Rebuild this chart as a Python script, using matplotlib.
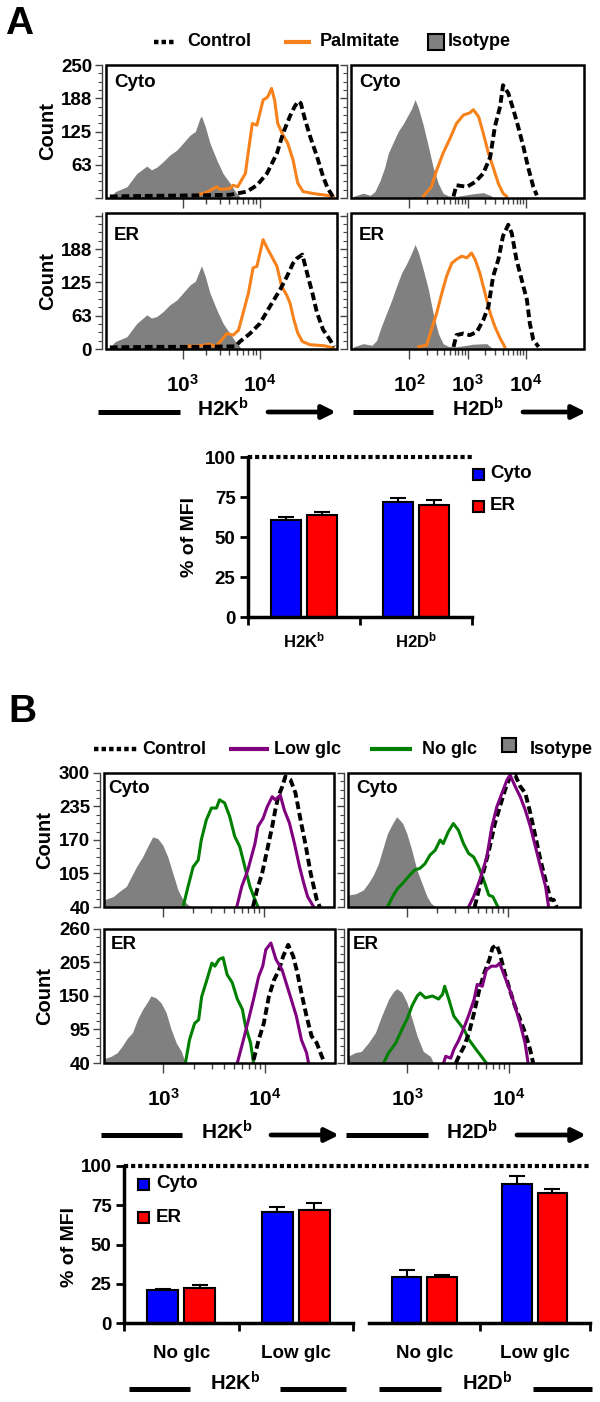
import numpy as np
import matplotlib
matplotlib.use('Agg')
import matplotlib.pyplot as plt
from matplotlib.patches import Rectangle, FancyArrowPatch
from matplotlib.lines import Line2D
from matplotlib.ticker import FixedLocator, FixedFormatter, NullFormatter

plt.rcParams['font.family'] = ['Liberation Sans', 'DejaVu Sans']
plt.rcParams['font.weight'] = 'bold'
plt.rcParams['mathtext.fontset'] = 'custom'
plt.rcParams['mathtext.rm'] = 'Liberation Sans:bold'
plt.rcParams['mathtext.it'] = 'Liberation Sans:bold'
plt.rcParams['mathtext.bf'] = 'Liberation Sans:bold'

# ---------------- data: histograms as (log10 fluorescence, count) ----------------
# panel A, H2Kb, Cyto
a_k_cyto_iso_lx = [2.05, 2.12, 2.27, 2.40, 2.53, 2.59, 2.66, 2.74, 2.83, 2.92, 3.00, 3.09, 3.16, 3.22, 3.24, 3.29, 3.35, 3.44, 3.52, 3.61, 3.68, 3.74]
a_k_cyto_iso_n = [0, 12, 21, 46, 60, 53, 58, 68, 81, 90, 103, 118, 125, 150, 154, 134, 103, 71, 46, 28, 12, 2]
a_k_cyto_pal_lx = [3.18, 3.31, 3.44, 3.48, 3.61, 3.65, 3.71, 3.81, 3.84, 3.90, 3.96, 4.04, 4.10, 4.15, 4.19, 4.23, 4.30, 4.36, 4.43, 4.49, 4.56, 4.71, 4.87, 4.95]
a_k_cyto_pal_n = [5, 11, 21, 16, 18, 24, 21, 46, 78, 140, 137, 184, 190, 206, 184, 140, 118, 103, 71, 28, 12, 8, 5, 2]
a_k_cyto_ctl_lx = [2.05, 2.57, 3.22, 3.61, 3.83, 3.96, 4.09, 4.22, 4.30, 4.39, 4.45, 4.50, 4.53, 4.58, 4.65, 4.74, 4.82, 4.88, 4.95]
a_k_cyto_ctl_n = [3, 4, 5, 6, 12, 24, 46, 84, 122, 154, 172, 182, 178, 150, 116, 78, 40, 18, 2]
# panel A, H2Kb, ER
a_k_er_iso_lx = [2.05, 2.12, 2.27, 2.40, 2.53, 2.59, 2.66, 2.74, 2.83, 2.92, 3.00, 3.09, 3.16, 3.24, 3.29, 3.35, 3.44, 3.52, 3.61, 3.68, 3.74]
a_k_er_iso_n = [3, 14, 23, 48, 64, 58, 61, 70, 83, 92, 105, 120, 127, 156, 136, 105, 73, 48, 29, 14, 4]
a_k_er_pal_lx = [3.03, 3.22, 3.35, 3.42, 3.48, 3.57, 3.65, 3.72, 3.78, 3.85, 3.91, 3.96, 4.00, 4.04, 4.09, 4.15, 4.22, 4.28, 4.35, 4.39, 4.44, 4.49, 4.55, 4.65, 4.84, 4.95]
a_k_er_pal_n = [5, 6, 9, 5, 13, 29, 26, 35, 67, 105, 152, 155, 180, 205, 190, 174, 155, 118, 100, 86, 55, 30, 14, 8, 6, 2]
a_k_er_ctl_lx = [2.05, 2.57, 3.22, 3.68, 3.74, 3.87, 4.00, 4.13, 4.26, 4.35, 4.43, 4.48, 4.55, 4.61, 4.68, 4.74, 4.82, 4.91, 4.96]
a_k_er_ctl_n = [3, 4, 4, 5, 14, 29, 48, 80, 111, 136, 161, 170, 177, 143, 105, 68, 36, 17, 4]
# panel A, H2Db, Cyto
a_d_cyto_iso_lx = [1.04, 1.21, 1.33, 1.41, 1.50, 1.58, 1.64, 1.73, 1.81, 1.90, 1.98, 2.04, 2.10, 2.16, 2.24, 2.33, 2.41, 2.50, 2.58, 2.67, 2.81, 3.10, 3.27, 3.39, 3.47]
a_d_cyto_iso_n = [3, 9, 5, 12, 33, 58, 84, 106, 125, 140, 156, 168, 185, 168, 137, 96, 58, 27, 9, 4, 3, 8, 10, 5, 0]
a_d_cyto_pal_lx = [2.24, 2.38, 2.47, 2.58, 2.70, 2.81, 2.93, 3.04, 3.10, 3.19, 3.27, 3.36, 3.44, 3.53, 3.61, 3.67]
a_d_cyto_pal_n = [3, 21, 52, 84, 112, 140, 156, 160, 166, 153, 122, 84, 58, 27, 9, 3]
a_d_cyto_ctl_lx = [2.76, 2.81, 2.99, 3.13, 3.27, 3.39, 3.47, 3.56, 3.61, 3.70, 3.79, 3.87, 3.96, 4.04, 4.13, 4.19]
a_d_cyto_ctl_n = [3, 24, 21, 30, 46, 77, 134, 172, 212, 197, 165, 134, 96, 58, 21, 5]
# panel A, H2Db, ER
a_d_er_iso_lx = [1.04, 1.21, 1.36, 1.44, 1.52, 1.61, 1.70, 1.78, 1.87, 1.96, 2.04, 2.10, 2.16, 2.24, 2.33, 2.41, 2.50, 2.58, 2.67, 2.81, 3.10, 3.33, 3.44]
a_d_er_iso_n = [4, 10, 7, 16, 42, 67, 92, 117, 143, 161, 180, 196, 180, 149, 111, 67, 29, 10, 5, 4, 9, 10, 0]
a_d_er_pal_lx = [2.16, 2.30, 2.38, 2.47, 2.56, 2.64, 2.73, 2.81, 2.90, 2.99, 3.07, 3.13, 3.21, 3.30, 3.39, 3.47, 3.56, 3.64]
a_d_er_pal_n = [4, 7, 36, 67, 105, 136, 161, 168, 174, 171, 180, 168, 143, 105, 67, 42, 20, 4]
a_d_er_ctl_lx = [2.76, 2.81, 2.93, 3.04, 3.16, 3.27, 3.36, 3.44, 3.53, 3.61, 3.70, 3.76, 3.84, 3.93, 4.02, 4.07, 4.13, 4.22]
a_d_er_ctl_n = [4, 26, 29, 26, 32, 54, 80, 136, 168, 212, 233, 217, 168, 130, 92, 48, 17, 4]

# panel B, H2Kb, Cyto
b_k_cyto_iso_lx = [2.42, 2.51, 2.57, 2.64, 2.69, 2.74, 2.80, 2.85, 2.90, 2.95, 3.00, 3.05, 3.10, 3.15, 3.20, 3.25, 3.30]
b_k_cyto_iso_n = [54, 60, 70, 80, 99, 118, 137, 157, 176, 173, 160, 137, 105, 73, 54, 44, 40]
b_k_cyto_no_lx = [3.20, 3.25, 3.30, 3.35, 3.38, 3.43, 3.48, 3.53, 3.56, 3.61, 3.66, 3.71, 3.76, 3.81, 3.86, 3.91, 3.94]
b_k_cyto_no_n = [40, 80, 118, 131, 170, 209, 232, 232, 248, 242, 216, 177, 157, 118, 80, 54, 40]
b_k_cyto_low_lx = [3.73, 3.78, 3.84, 3.91, 3.94, 3.99, 4.03, 4.08, 4.11, 4.16, 4.20, 4.25, 4.30, 4.35, 4.40, 4.43, 4.49]
b_k_cyto_low_n = [40, 80, 112, 163, 196, 212, 234, 254, 248, 257, 228, 203, 163, 118, 80, 60, 40]
b_k_cyto_ctl_lx = [3.89, 3.93, 3.98, 4.03, 4.08, 4.11, 4.14, 4.18, 4.21, 4.26, 4.31, 4.36, 4.41, 4.46, 4.52, 4.55]
b_k_cyto_ctl_n = [40, 73, 105, 150, 196, 228, 254, 274, 293, 287, 261, 209, 160, 105, 54, 40]
# panel B, H2Db, Cyto
b_d_cyto_iso_lx = [2.42, 2.50, 2.57, 2.62, 2.67, 2.72, 2.77, 2.81, 2.86, 2.90, 2.93, 2.96, 3.00, 3.05, 3.10, 3.15, 3.20, 3.24, 3.29]
b_d_cyto_iso_n = [63, 66, 73, 86, 102, 124, 157, 183, 202, 215, 209, 202, 183, 150, 112, 86, 60, 47, 40]
b_d_cyto_no_lx = [2.81, 2.86, 2.91, 2.96, 3.03, 3.08, 3.13, 3.18, 3.23, 3.28, 3.33, 3.36, 3.41, 3.46, 3.51, 3.56, 3.61, 3.66, 3.71, 3.76, 3.81, 3.85, 3.90]
b_d_cyto_no_n = [40, 60, 76, 86, 102, 112, 115, 124, 141, 150, 170, 163, 186, 202, 189, 163, 144, 137, 118, 92, 63, 60, 40]
b_d_cyto_low_lx = [3.61, 3.66, 3.72, 3.79, 3.84, 3.89, 3.94, 3.99, 4.02, 4.07, 4.12, 4.17, 4.22, 4.27, 4.32, 4.37, 4.40]
b_d_cyto_low_n = [40, 60, 92, 137, 196, 235, 261, 287, 296, 274, 254, 228, 196, 157, 118, 80, 40]
b_d_cyto_ctl_lx = [3.67, 3.72, 3.77, 3.82, 3.87, 3.92, 3.97, 4.02, 4.07, 4.12, 4.17, 4.22, 4.27, 4.32, 4.37, 4.42, 4.45, 4.48]
b_d_cyto_ctl_n = [40, 80, 118, 157, 202, 235, 267, 293, 296, 274, 261, 222, 177, 131, 92, 54, 54, 40]
# panel B, H2Kb, ER
b_k_er_iso_lx = [2.42, 2.49, 2.55, 2.60, 2.65, 2.70, 2.75, 2.80, 2.85, 2.88, 2.93, 2.98, 3.03, 3.08, 3.13, 3.18, 3.22]
b_k_er_iso_n = [47, 51, 57, 68, 81, 90, 112, 128, 141, 150, 147, 139, 123, 95, 73, 59, 40]
b_k_er_no_lx = [3.22, 3.26, 3.31, 3.35, 3.38, 3.43, 3.48, 3.51, 3.55, 3.59, 3.63, 3.68, 3.73, 3.78, 3.81, 3.86, 3.89]
b_k_er_no_n = [40, 78, 105, 111, 149, 176, 204, 199, 210, 213, 185, 172, 145, 128, 101, 73, 40]
b_k_er_low_lx = [3.73, 3.79, 3.84, 3.89, 3.94, 3.98, 4.01, 4.06, 4.11, 4.17, 4.22, 4.27, 4.31, 4.36, 4.41, 4.43]
b_k_er_low_n = [40, 78, 111, 145, 182, 199, 226, 237, 210, 193, 166, 139, 117, 78, 57, 40]
b_k_er_ctl_lx = [3.89, 3.94, 3.99, 4.04, 4.09, 4.14, 4.18, 4.23, 4.28, 4.32, 4.36, 4.41, 4.46, 4.51, 4.56, 4.59]
b_k_er_ctl_n = [45, 78, 105, 149, 176, 193, 215, 234, 215, 188, 155, 117, 84, 73, 51, 40]
# panel B, H2Db, ER
b_d_er_iso_lx = [2.42, 2.49, 2.55, 2.62, 2.69, 2.75, 2.82, 2.87, 2.90, 2.95, 3.00, 3.05, 3.10, 3.16, 3.23, 3.26]
b_d_er_iso_n = [51, 57, 59, 73, 90, 117, 145, 158, 162, 156, 139, 112, 84, 59, 51, 40]
b_d_er_no_lx = [2.77, 2.82, 2.89, 2.95, 3.00, 3.05, 3.10, 3.13, 3.18, 3.25, 3.31, 3.35, 3.37, 3.41, 3.46, 3.51, 3.56, 3.61, 3.68, 3.73, 3.78]
b_d_er_no_n = [40, 57, 73, 95, 112, 134, 150, 155, 147, 150, 145, 153, 166, 145, 117, 106, 95, 78, 62, 51, 40]
b_d_er_low_lx = [3.36, 3.38, 3.43, 3.46, 3.51, 3.56, 3.61, 3.66, 3.69, 3.74, 3.78, 3.83, 3.88, 3.91, 3.96, 4.01, 4.06, 4.11, 4.16, 4.19]
b_d_er_low_n = [40, 51, 48, 62, 78, 98, 120, 145, 169, 166, 193, 199, 199, 204, 182, 160, 134, 106, 73, 40]
b_d_er_ctl_lx = [3.48, 3.51, 3.56, 3.61, 3.66, 3.71, 3.76, 3.81, 3.84, 3.88, 3.91, 3.96, 4.01, 4.06, 4.11, 4.16, 4.21, 4.24]
b_d_er_ctl_n = [40, 51, 67, 90, 123, 160, 188, 210, 229, 234, 221, 188, 160, 134, 112, 90, 62, 40]

# ---------------- data: bar charts (% of MFI) ----------------
a_groups = ['H2K$^b$', 'H2D$^b$']
a_cyto = [60.5, 72.0]
a_cyto_err = [2.0, 2.3]
a_er = [63.5, 70.0]
a_er_err = [2.0, 3.0]

b_groups = ['No glc', 'Low glc']
b_k_cyto = [21.0, 71.0]
b_k_cyto_err = [0.8, 3.2]
b_k_er = [22.0, 72.0]
b_k_er_err = [2.1, 4.2]
b_d_cyto = [29.3, 88.5]
b_d_cyto_err = [4.5, 5.3]
b_d_er = [29.3, 83.0]
b_d_er_err = [1.3, 2.3]

# ---------------- layout helpers ----------------
W, H = 600.0, 1402.0
fig = plt.figure(figsize=(6, 14.02), dpi=100)

GRAY = '#808080'
ORANGE = '#F7821B'
PURPLE = '#800080'
GREEN = '#008000'
DASH = (0, (2.0, 1.0))
DOTS = (0, (1, 0.7))


def rect(x0, y0, x1, y1):
    return [x0 / W, 1 - y1 / H, (x1 - x0) / W, (y1 - y0) / H]


def fx(x):
    return x / W


def fy(y):
    return 1 - y / H


def hist_panel(pos, xlim, ylim, yticks, ylabels, xmaj, xlabels, tag, tag_xy):
    ax = fig.add_axes(rect(*pos))
    ax.set_xscale('log')
    ax.set_xlim(10 ** xlim[0], 10 ** xlim[1])
    ax.set_ylim(*ylim)
    for s in ['top', 'right', 'bottom']:
        ax.spines[s].set_visible(False)
    ax.spines['left'].set_position(('outward', 3))
    ax.spines['left'].set_linewidth(1)
    ax.spines['left'].set_color('#444')
    ax.add_patch(Rectangle((0, 0), 1, 1, transform=ax.transAxes, fill=False,
                           lw=1.8, ec='k', clip_on=False, zorder=6))
    ax.xaxis.set_major_locator(FixedLocator([10.0 ** e for e in xmaj]))
    minors = [m * 10.0 ** e for e in range(xmaj[0], xmaj[-1]) for m in range(2, 10)]
    ax.xaxis.set_minor_locator(FixedLocator(minors))
    ax.xaxis.set_minor_formatter(NullFormatter())
    if xlabels:
        ax.xaxis.set_major_formatter(FixedFormatter([r'$10^{%d}$' % e for e in xmaj]))
    else:
        ax.xaxis.set_major_formatter(NullFormatter())
    ax.yaxis.set_major_locator(FixedLocator(yticks))
    step = (yticks[1] - yticks[0]) / 4.0
    ax.yaxis.set_minor_locator(FixedLocator(np.arange(yticks[0], ylim[1] + 0.01, step)))
    if ylabels:
        ax.yaxis.set_major_formatter(FixedFormatter(ylabels))
    else:
        ax.yaxis.set_major_formatter(NullFormatter())
    ax.tick_params(axis='x', which='major', length=7, width=1, color='#444', pad=11, labelsize=15)
    ax.tick_params(axis='x', which='minor', length=4, width=1, color='#444')
    ax.tick_params(axis='y', which='major', length=5, width=1, color='#444', pad=2, labelsize=13.5)
    ax.tick_params(axis='y', which='minor', length=3, width=0.8, color='#444')
    ax.text(tag_xy[0], tag_xy[1], tag, transform=ax.transAxes, fontsize=13.5,
            fontweight='bold', ha='left', va='top', zorder=7)
    return ax


def draw_iso(ax, lx, n):
    ax.fill_between(10 ** np.array(lx), n, ax.get_ylim()[0], color=GRAY, lw=0, zorder=1)


def draw_line(ax, lx, n, color, z=3):
    ax.plot(10 ** np.array(lx), n, color=color, lw=2.2, zorder=z)


def draw_ctl(ax, lx, n):
    ax.plot(10 ** np.array(lx), n, color='k', lw=2.8, ls=DASH, zorder=4)


def hline(x0, x1, y, lw=3.6):
    fig.add_artist(Line2D([fx(x0), fx(x1)], [fy(y), fy(y)], color='k', lw=lw,
                          solid_capstyle='butt'))


def arrow(x0, x1, y):
    fig.add_artist(FancyArrowPatch((fx(x0), fy(y)), (fx(x1), fy(y)),
                                   transform=fig.transFigure, arrowstyle='-|>',
                                   mutation_scale=20, lw=3.4, color='k',
                                   shrinkA=0, shrinkB=0))


def label(x, y, s, size=14, ha='center', rot=0):
    fig.text(fx(x), fy(y), s, fontsize=size, fontweight='bold', ha=ha, va='center',
             rotation=rot)


def bar_panel(pos, groups, cyto, cyto_err, er, er_err, left=True, xt=(0, 1, 2)):
    ax = fig.add_axes(rect(*pos))
    x = np.arange(len(cyto)) + 0.5
    ax.bar(x - 0.16, cyto, 0.27, color='#0000FF', edgecolor='k', lw=1.5, zorder=2)
    ax.bar(x + 0.16, er, 0.27, color='#FF0000', edgecolor='k', lw=1.5, zorder=2)
    z = np.zeros(len(cyto))
    ax.errorbar(x - 0.16, cyto, yerr=[z, cyto_err], fmt='none', ecolor='k',
                elinewidth=1.5, capsize=6, capthick=1.5, zorder=3)
    ax.errorbar(x + 0.16, er, yerr=[z, er_err], fmt='none', ecolor='k',
                elinewidth=1.5, capsize=6, capthick=1.5, zorder=3)
    ax.set_xlim(0, len(cyto))
    ax.set_ylim(0, 100)
    ax.spines['top'].set_visible(False)
    ax.spines['right'].set_visible(False)
    ax.spines['bottom'].set_linewidth(2.5)
    ax.spines['left'].set_linewidth(2.5)
    ax.set_xticks(list(xt))
    ax.set_xticklabels([])
    ax.set_xticks(x, minor=True)
    ax.set_xticklabels(groups, minor=True)
    ax.tick_params(axis='x', which='major', length=6, width=2)
    ax.tick_params(axis='x', which='minor', length=0, labelsize=13)
    if left:
        ax.set_yticks([0, 25, 50, 75, 100])
        ax.tick_params(axis='y', length=6, width=2, labelsize=13.5, pad=3)
    else:
        ax.spines['left'].set_visible(False)
        ax.set_yticks([])
    ax.patch.set_alpha(0)
    return ax


def square(x0, x1, yc, color):
    h = (x1 - x0)
    fig.add_artist(Rectangle((fx(x0), fy(yc + h / 2)), (x1 - x0) / W, h / H,
                             transform=fig.transFigure, fc=color, ec='k', lw=1.5))


# ---------------- panel A ----------------
label(5, 24, 'A', size=28, ha='left')

# legend row
fig.add_artist(Line2D([fx(154), fx(176)], [fy(42), fy(42)], color='k', lw=3.2, ls=DOTS))
label(187, 42, 'Control', size=13, ha='left')
hline(284, 311, 42, lw=3)
fig.artists[-1].set_color(ORANGE)
label(320, 42, 'Palmitate', size=13, ha='left')
square(428, 444, 42, GRAY)
label(448, 42, 'Isotype', size=13, ha='left')

a_yt = [0, 62.5, 125, 187.5, 250]
ax = hist_panel((106, 65, 337, 198), (2, 5), (0, 250), a_yt, ['', '63', '125', '188', '250'],
                [3, 4], False, 'Cyto', (0.035, 0.935))
draw_iso(ax, a_k_cyto_iso_lx, a_k_cyto_iso_n)
draw_line(ax, a_k_cyto_pal_lx, a_k_cyto_pal_n, ORANGE)
draw_ctl(ax, a_k_cyto_ctl_lx, a_k_cyto_ctl_n)

ax = hist_panel((351, 65, 584, 198), (1, 5), (0, 250), a_yt, None,
                [2, 3, 4], False, 'Cyto', (0.035, 0.935))
draw_iso(ax, a_d_cyto_iso_lx, a_d_cyto_iso_n)
draw_line(ax, a_d_cyto_pal_lx, a_d_cyto_pal_n, ORANGE)
draw_ctl(ax, a_d_cyto_ctl_lx, a_d_cyto_ctl_n)

ax = hist_panel((106, 213, 337, 349), (2, 5), (0, 255), a_yt, ['0', '63', '125', '188', ''],
                [3, 4], True, 'ER', (0.035, 0.90))
draw_iso(ax, a_k_er_iso_lx, a_k_er_iso_n)
draw_line(ax, a_k_er_pal_lx, a_k_er_pal_n, ORANGE)
draw_ctl(ax, a_k_er_ctl_lx, a_k_er_ctl_n)

ax = hist_panel((351, 213, 584, 349), (1, 5), (0, 255), a_yt, None,
                [2, 3, 4], True, 'ER', (0.035, 0.90))
draw_iso(ax, a_d_er_iso_lx, a_d_er_iso_n)
draw_line(ax, a_d_er_pal_lx, a_d_er_pal_n, ORANGE)
draw_ctl(ax, a_d_er_ctl_lx, a_d_er_ctl_n)

label(48, 131, 'Count', size=14.5, rot=90)
label(48, 281, 'Count', size=14.5, rot=90)

# x axis titles
hline(98, 180, 412)
label(223, 409, 'H2K$^b$', size=15)
arrow(268, 336, 412)
hline(353, 433, 412)
label(478, 409, 'H2D$^b$', size=15)
arrow(523, 586, 412)

# bar chart A
bx = bar_panel((248, 457, 472, 617), a_groups, a_cyto, a_cyto_err, a_er, a_er_err)
bx.axhline(100, color='k', lw=3, ls=DOTS, clip_on=False, zorder=5)
bx.tick_params(axis='x', which='minor', pad=10, labelsize=12)
label(189, 537, '% of MFI', size=14, rot=90)
square(473, 484, 474, '#0000FF')
label(490, 474, 'Cyto', size=13.5, ha='left')
square(473, 484, 506, '#FF0000')
label(490, 506, 'ER', size=13.5, ha='left')

# ---------------- panel B ----------------
label(8, 712, 'B', size=28, ha='left')

fig.add_artist(Line2D([fx(94), fx(138)], [fy(749), fy(749)], color='k', lw=3.2, ls=DOTS))
label(142, 749, 'Control', size=13, ha='left')
hline(229, 269, 749, lw=3)
fig.artists[-1].set_color(PURPLE)
label(274, 749, 'Low glc', size=13, ha='left')
hline(370, 412, 749, lw=3)
fig.artists[-1].set_color(GREEN)
label(422, 749, 'No glc', size=13, ha='left')
square(502, 516, 745, GRAY)
label(530, 749, 'Isotype', size=13, ha='left')

ax = hist_panel((104, 773, 334, 907), (2.42, 4.69), (40, 300), [40, 105, 170, 235, 300],
                ['40', '105', '170', '235', '300'], [3, 4], False, 'Cyto', (0.02, 0.95))
draw_iso(ax, b_k_cyto_iso_lx, b_k_cyto_iso_n)
draw_line(ax, b_k_cyto_no_lx, b_k_cyto_no_n, GREEN)
draw_ctl(ax, b_k_cyto_ctl_lx, b_k_cyto_ctl_n)
draw_line(ax, b_k_cyto_low_lx, b_k_cyto_low_n, PURPLE, z=4)

ax = hist_panel((348, 773, 580, 907), (2.42, 4.71), (40, 300), [40, 105, 170, 235, 300],
                None, [3, 4], False, 'Cyto', (0.035, 0.95))
draw_iso(ax, b_d_cyto_iso_lx, b_d_cyto_iso_n)
draw_line(ax, b_d_cyto_no_lx, b_d_cyto_no_n, GREEN)
draw_ctl(ax, b_d_cyto_ctl_lx, b_d_cyto_ctl_n)
draw_line(ax, b_d_cyto_low_lx, b_d_cyto_low_n, PURPLE, z=4)

ax = hist_panel((104, 929, 335, 1063), (2.42, 4.69), (40, 260), [40, 95, 150, 205, 260],
                ['40', '95', '150', '205', '260'], [3, 4], True, 'ER', (0.03, 0.95))
draw_iso(ax, b_k_er_iso_lx, b_k_er_iso_n)
draw_line(ax, b_k_er_no_lx, b_k_er_no_n, GREEN)
draw_ctl(ax, b_k_er_ctl_lx, b_k_er_ctl_n)
draw_line(ax, b_k_er_low_lx, b_k_er_low_n, PURPLE, z=4)

ax = hist_panel((348, 929, 581, 1063), (2.42, 4.71), (40, 260), [40, 95, 150, 205, 260],
                None, [3, 4], True, 'ER', (0.02, 0.95))
draw_iso(ax, b_d_er_iso_lx, b_d_er_iso_n)
draw_line(ax, b_d_er_no_lx, b_d_er_no_n, GREEN)
draw_ctl(ax, b_d_er_ctl_lx, b_d_er_ctl_n)
draw_line(ax, b_d_er_low_lx, b_d_er_low_n, PURPLE, z=4)

label(45, 840, 'Count', size=14.5, rot=90)
label(45, 996, 'Count', size=14.5, rot=90)

hline(101, 182, 1135)
label(227, 1132, 'H2K$^b$', size=15)
arrow(271, 339, 1135)
hline(346, 428, 1135)
label(472, 1132, 'H2D$^b$', size=15)
arrow(517, 586, 1135)

# bar chart B (broken x axis: H2Kb | H2Db)
bl = bar_panel((124, 1166, 353, 1323), b_groups, b_k_cyto, b_k_cyto_err, b_k_er, b_k_er_err)
br = bar_panel((369, 1166, 590, 1323), b_groups, b_d_cyto, b_d_cyto_err, b_d_er, b_d_er_err,
               left=False, xt=(1, 2))
for a in (bl, br):
    a.tick_params(axis='x', which='minor', pad=16, labelsize=13.5)
p0 = bl.get_position()
p1 = br.get_position()
bl.axhline(100, xmin=0, xmax=(p1.x1 - p0.x0) / p0.width, color='k', lw=3, ls=DOTS,
           clip_on=False, zorder=5)
label(69, 1247, '% of MFI', size=14, rot=90)
square(138, 149, 1184, '#0000FF')
label(156, 1184, 'Cyto', size=13.5, ha='left')
square(138, 149, 1217, '#FF0000')
label(156, 1217, 'ER', size=13.5, ha='left')

hline(129, 190, 1389)
label(235, 1383, 'H2K$^b$', size=14.5)
hline(280, 346, 1389)
hline(379, 441, 1389)
label(487, 1383, 'H2D$^b$', size=14.5)
hline(533, 592, 1389)

fig.savefig('out.png', dpi=100)
